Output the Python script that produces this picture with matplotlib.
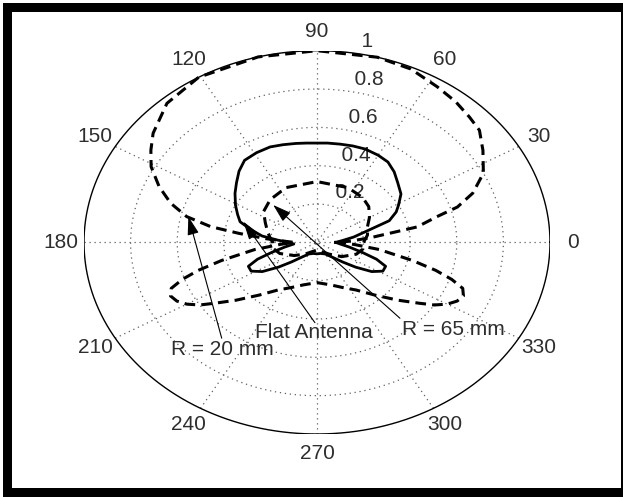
import numpy as np
import matplotlib
matplotlib.use("Agg")
import matplotlib.pyplot as plt
from matplotlib.patches import Rectangle

# ---- data (angle in degrees, normalised radiation pattern) ----
theta_r20 = [0, 3, 6, 10.6, 14.6, 17, 21, 26.8, 34, 40, 45, 51, 57.6, 66, 75, 90, 104.6, 120.5,
             131.6, 141, 146, 151, 156.8, 162, 166.5, 169.8, 172, 175, 178, 180, 184, 188, 193,
             196, 198.5, 201, 204, 207, 210, 213, 216, 221, 228, 236, 245, 255, 270, 285, 295,
             304, 312, 319, 324, 327, 330, 333, 336, 339, 341.5, 344, 347, 352, 356, 360]
r_r20 = [0.10, 0.15, 0.23, 0.437, 0.532, 0.63, 0.716, 0.80, 0.859, 0.91, 0.925, 0.945, 0.962,
         0.99, 1.0, 1.0, 1.0, 1.0, 0.97, 0.905, 0.86, 0.814, 0.737, 0.66, 0.575, 0.464, 0.34,
         0.22, 0.13, 0.10, 0.16, 0.27, 0.42, 0.53, 0.61, 0.67, 0.688, 0.675, 0.645, 0.60, 0.54,
         0.46, 0.37, 0.30, 0.26, 0.23, 0.21, 0.23, 0.26, 0.30, 0.37, 0.46, 0.54, 0.60, 0.645,
         0.675, 0.688, 0.67, 0.61, 0.53, 0.42, 0.27, 0.16, 0.10]

theta_flat = [0, 5, 10, 15, 20, 25, 29, 35, 42, 48, 54, 60, 67, 73, 79, 85, 90, 95, 100, 106,
              112, 119, 126, 132, 138, 144, 151, 157, 162, 167, 172, 176, 180, 185, 190, 195,
              199, 203, 208, 213, 218, 223, 230, 240, 255, 270, 285, 300, 310, 317, 322, 327,
              332, 337, 341, 345, 350, 355, 360]
r_flat = [0.08, 0.11, 0.16, 0.215, 0.33, 0.375, 0.40, 0.44, 0.466, 0.495, 0.518, 0.525, 0.529,
          0.526, 0.522, 0.52, 0.518, 0.52, 0.524, 0.53, 0.537, 0.535, 0.529, 0.50, 0.465, 0.435,
          0.40, 0.37, 0.347, 0.29, 0.238, 0.17, 0.12, 0.10, 0.14, 0.20, 0.27, 0.32, 0.32, 0.28,
          0.21, 0.15, 0.10, 0.07, 0.06, 0.06, 0.06, 0.07, 0.10, 0.15, 0.21, 0.28, 0.32, 0.32,
          0.27, 0.20, 0.14, 0.10, 0.08]

theta_r65 = [0, 10, 20, 30, 40, 50, 65, 90, 115, 132, 145, 155, 165, 175, 180, 190, 200, 215,
             230, 250, 270, 290, 310, 325, 340, 350, 360]
r_r65 = [0.20, 0.22, 0.23, 0.26, 0.29, 0.305, 0.315, 0.317, 0.315, 0.30, 0.28, 0.245, 0.22,
         0.20, 0.19, 0.19, 0.17, 0.12, 0.08, 0.05, 0.04, 0.05, 0.08, 0.13, 0.18, 0.20, 0.20]

angle_ticks = [0, 30, 60, 90, 120, 150, 180, 210, 240, 270, 300, 330]
radial_ticks = [0.2, 0.4, 0.6, 0.8, 1.0]
radial_labels = ["0.2", "0.4", "0.6", "0.8", "1"]

FONT = "Liberation Sans"
TXT = "#2e2e2e"
FS = 15

fig = plt.figure(figsize=(6.23, 4.97), dpi=100)
W, H = 623.0, 497.0
# black frame
fig.patches.append(Rectangle((3 / W, 0), 1.0, (497 - 3) / H, transform=fig.transFigure,
                             facecolor="black", edgecolor="none", zorder=-10))
fig.patches.append(Rectangle((12 / W, 9 / H), (620.7 - 12) / W, (488 - 12) / H,
                             transform=fig.transFigure, facecolor="white",
                             edgecolor="none", zorder=-9))

ax = fig.add_axes([84 / W, (497 - 434) / H, 466 / W, 383.3 / H])
ax.set_xlim(-1, 1)
ax.set_ylim(-1, 1)
ax.axis("off")
ax.patch.set_alpha(0)

# grid
t = np.linspace(0, 2 * np.pi, 400)
for rr in radial_ticks[:-1]:
    ax.plot(rr * np.cos(t), rr * np.sin(t), color="#606060", lw=0.9,
            linestyle=(0, (1, 3)), zorder=1)
ax.plot(np.cos(t), np.sin(t), color="black", lw=1.0, zorder=2)
for a in angle_ticks[:6]:
    c, s = np.cos(np.deg2rad(a)), np.sin(np.deg2rad(a))
    ax.plot([-c, c], [-s, s], color="#606060", lw=0.9, linestyle=(0, (1, 3)), zorder=1)

# angle labels
for a in angle_ticks:
    c, s = np.cos(np.deg2rad(a)), np.sin(np.deg2rad(a))
    ax.text(1.1 * c, 1.1 * s, str(a), ha="center", va="center", fontsize=FS,
            family=FONT, color=TXT)

# radial labels (MATLAB style at 82 deg)
c82, s82 = np.cos(np.deg2rad(82)), np.sin(np.deg2rad(82))
for rr, lab in zip(radial_ticks, radial_labels):
    ax.text((rr + 0.01) * c82, (rr + 0.01) * s82, "  " + lab, ha="left", va="bottom",
            fontsize=FS, family=FONT, color=TXT, zorder=3)


def to_xy(th, r):
    th = np.deg2rad(np.asarray(th, dtype=float))
    r = np.asarray(r, dtype=float)
    return r * np.cos(th), r * np.sin(th)


x, y = to_xy(theta_r20, r_r20)
ax.plot(x, y, color="black", lw=2.2, linestyle=(0, (3.5, 2)), zorder=5)
x, y = to_xy(theta_flat, r_flat)
ax.plot(x, y, color="black", lw=2.0, zorder=5)
x, y = to_xy(theta_r65, r_r65)
ax.plot(x, y, color="black", lw=2.2, linestyle=(0, (3.5, 2)), zorder=5)

# annotations
arrow = dict(arrowstyle="-|>,head_length=0.7,head_width=0.22", color="black", lw=0.8,
             mutation_scale=16, shrinkA=0, shrinkB=0)
ax.annotate("", xy=(-0.552, 0.134), xytext=(-0.409, -0.50), arrowprops=arrow, zorder=6)
ax.annotate("", xy=(-0.316, 0.108), xytext=(-0.009, -0.419), arrowprops=arrow, zorder=6)
ax.annotate("", xy=(-0.188, 0.195), xytext=(0.356, -0.396), arrowprops=arrow, zorder=6)

ax.text(-0.406, -0.561, "R = 20 mm", ha="center", va="center", fontsize=FS,
        family=FONT, color=TXT, zorder=7)
ax.text(-0.013, -0.471, "Flat Antenna", ha="center", va="center", fontsize=FS,
        family=FONT, color=TXT, zorder=7)
ax.text(0.584, -0.457, "R = 65 mm", ha="center", va="center", fontsize=FS,
        family=FONT, color=TXT, zorder=7)

fig.savefig("out.png", dpi=100)
